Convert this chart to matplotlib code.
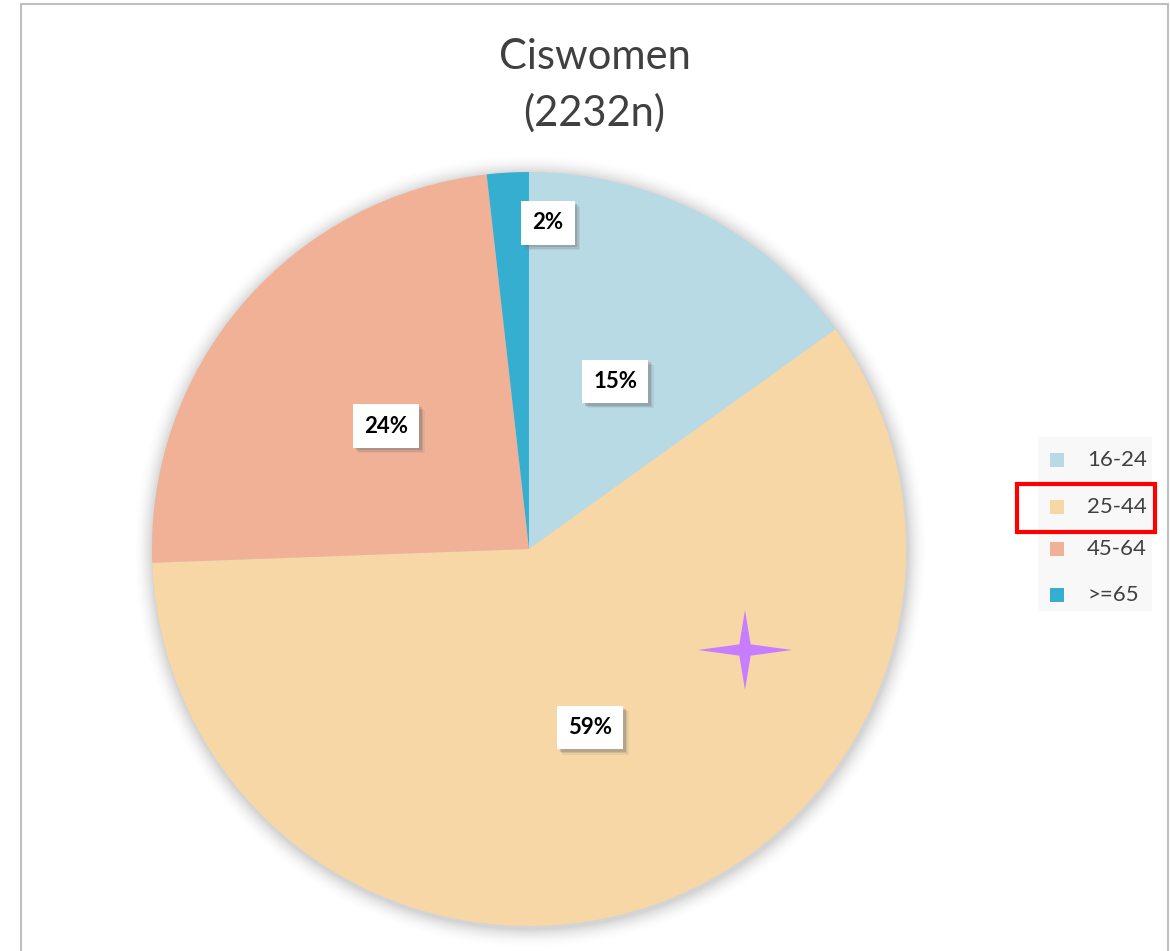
import matplotlib.pyplot as plt
import matplotlib.patches as mpatches
import matplotlib.patheffects as pe
import numpy as np

# data (respondent counts, n = 2232)
age_groups = ['16-24', '25-44', '45-64', '>=65']
counts = [337, 1324, 531, 40]
pct_labels = ['15%', '59%', '24%', '2%']
colors = ['#B8DAE5', '#F7D7A6', '#F0B196', '#36AED0']

FONT = ['Lato', 'DejaVu Sans']
W, H = 1170, 951
fig = plt.figure(figsize=(W / 100, H / 100), dpi=100)
fig.patch.set_facecolor('white')

# chart frame (open at the bottom, cropped)
frame = mpatches.Rectangle((21 / W, -0.1), (1168 - 21) / W, 1.1 - 4 / H,
                           transform=fig.transFigure, fill=False,
                           edgecolor='#BFBFBF', linewidth=1.5)
fig.patches.append(frame)

# pie axes
cx, cy, r = 529, 549, 377
ax = fig.add_axes([(cx - r) / W, (H - cy - r) / H, 2 * r / W, 2 * r / H])

wedges, _ = ax.pie(counts, colors=colors, startangle=90, counterclock=False,
                   radius=1.0, wedgeprops=dict(linewidth=0))
for w in wedges:
    w.set_zorder(2)
ax.set_xlim(-1, 1)
ax.set_ylim(-1, 1)
ax.set_aspect('equal')
ax.axis('off')

# soft shadow behind the pie
for i, a in enumerate(np.linspace(0.03, 0.004, 10)):
    ax.add_patch(mpatches.Circle((0.003, -0.006), 1.0 + 0.005 * (i + 1),
                                 color='black', alpha=a, lw=0, zorder=0,
                                 clip_on=False))

# data labels
total = sum(counts)
cum = 0
for i, (c, lab) in enumerate(zip(counts, pct_labels)):
    mid = (cum + c / 2) / total * 360
    cum += c
    ang = np.deg2rad(90 - mid)
    if c / total < 0.05:
        x, y = 0.05, 0.865
    else:
        x, y = 0.5 * np.cos(ang), 0.5 * np.sin(ang)
    t = ax.text(x, y, lab, ha='center', va='center', fontsize=16,
                fontweight='bold', color='black', family=FONT, zorder=5,
                bbox=dict(boxstyle='square,pad=0.5', facecolor='white', edgecolor='none'))
    t.get_bbox_patch().set_path_effects([
        pe.SimplePatchShadow(offset=(4, -4), shadow_rgbFace='#888888', alpha=0.15),
        pe.SimplePatchShadow(offset=(3, -3), shadow_rgbFace='#777777', alpha=0.2),
        pe.SimplePatchShadow(offset=(2, -2), shadow_rgbFace='#666666', alpha=0.25),
        pe.Normal()])

# purple sparkle
sx, sy = 745, 650
outer_v, outer_h, inner = 40, 47, 8
star = []
for k in range(8):
    a = np.deg2rad(90 - k * 45)
    if k % 2 == 0:
        rr = outer_v if k % 4 == 0 else outer_h
    else:
        rr = inner
    star.append(((sx + rr * np.cos(a)) / W, (H - sy + rr * np.sin(a)) / H))
fig.patches.append(mpatches.Polygon(star, closed=True, transform=fig.transFigure,
                                    facecolor='#C77DFF', edgecolor='none', zorder=10))

# title
fig.text(594.5 / W, 1 - 57 / H, 'Ciswomen', ha='center', va='center',
         fontsize=30, color='#404040', family=FONT)
fig.text(594.5 / W, 1 - 113 / H, '(2232n)', ha='center', va='center',
         fontsize=30, color='#404040', family=FONT)

# legend
fig.patches.append(mpatches.Rectangle((1038 / W, 1 - 611 / H), 114 / W, 174 / H,
                                      transform=fig.transFigure, facecolor='#F8F8F8',
                                      edgecolor='none'))
leg_y = [460, 507, 549, 595]
for lab, col, ly in zip(age_groups, colors, leg_y):
    fig.patches.append(mpatches.Rectangle((1050 / W, 1 - (ly + 7) / H), 14 / W, 14 / H,
                                          transform=fig.transFigure, facecolor=col,
                                          edgecolor='none'))
    fig.text(1087 / W, 1 - ly / H, lab, ha='left', va='center', fontsize=16,
             color='#404040', family=FONT)

# highlight box around 25-44
fig.patches.append(mpatches.Rectangle((1017 / W, 1 - 532 / H), 138 / W, 48 / H,
                                      transform=fig.transFigure, fill=False,
                                      edgecolor='#FF0000', linewidth=3, zorder=10))

plt.savefig('out.png', dpi=100)
